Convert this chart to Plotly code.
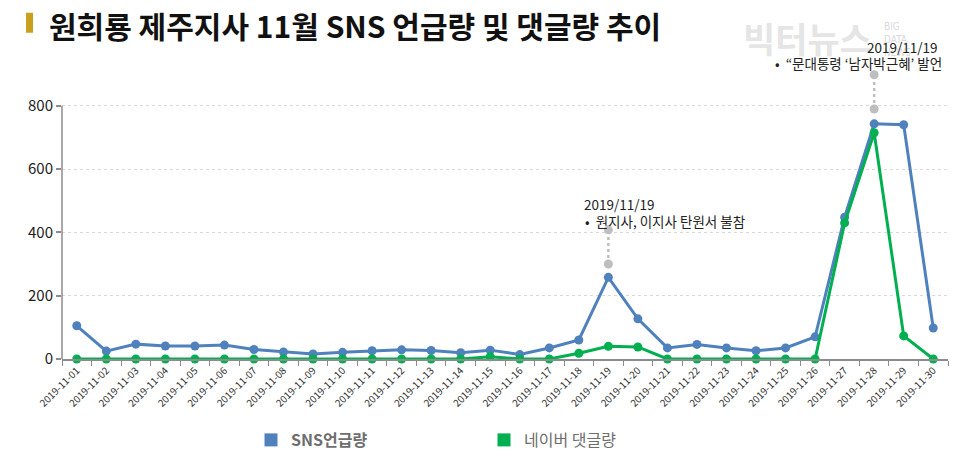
import plotly.graph_objs as go

BLUE  = 'rgba(79, 129, 189, 1.0)'
GREEN = 'rgba(0, 176, 80, 1.0)'
GREY  = 'rgba(190, 190, 190, 1.0)'
GOLD  = 'rgba(201, 160, 30, 1.0)'
AXIS  = '#8c8c8c'
KFONT = 'Noto Sans CJK KR'

dates = ['2019-11-%02d' % d for d in range(1, 31)]

sns_mentions = [105, 25, 47, 41, 41, 44, 30, 22, 16, 21,
                26, 29, 27, 20, 28, 14, 35, 60, 258, 127,
                35, 46, 35, 26, 35, 70, 448, 743, 740, 98]

naver_comments = [0, 0, 0, 0, 0, 0, 0, 0, 0, 0,
                  0, 0, 0, 0, 7, 0, 0, 18, 40, 38,
                  0, 0, 0, 0, 0, 0, 430, 715, 73, 0]

# callout stems: (date, bottom, top)
callout_dates = ['2019-11-19', '2019-11-28']
callout_low   = [300, 790]
callout_high  = [408, 898]
callout_date_text = ['2019/11/19', '2019/11/19']
callout_note_text = ['•  원지사, 이지사 탄원서 불참', '•  “문대통령 ‘남자박근혜’ 발언']

y_ticks = [0, 200, 400, 600, 800]
y_top = 910

# page pixel -> paper (page has an 8px body margin)
def px_x(p):
    return (p - 62) / 886

def px_y(p):
    return (359 - p) / (253 * y_top / 800)

fig = go.Figure()

for d, lo, hi in zip(callout_dates, callout_low, callout_high):
    fig.add_trace(go.Scatter(x=[d, d], y=[lo, hi], mode='lines+markers',
                             line=dict(color=GREY, width=2.5, dash='dot'),
                             marker=dict(color=GREY, size=9),
                             cliponaxis=False, showlegend=False, hoverinfo='skip'))

fig.add_trace(go.Scatter(x=dates, y=sns_mentions, mode='lines+markers',
                         line=dict(color=BLUE, width=3), marker=dict(color=BLUE, size=9),
                         cliponaxis=False, showlegend=False))
fig.add_trace(go.Scatter(x=dates, y=naver_comments, mode='lines+markers',
                         line=dict(color=GREEN, width=3), marker=dict(color=GREEN, size=9),
                         cliponaxis=False, showlegend=False))

# square legend keys
fig.add_trace(go.Scatter(x=[None], y=[None], name='<b>SNS언급량</b>', mode='markers',
                         marker=dict(color=BLUE, size=13, symbol='square')))
fig.add_trace(go.Scatter(x=[None], y=[None], name='네이버 댓글량', mode='markers',
                         marker=dict(color=GREEN, size=13, symbol='square')))

annots = [
    dict(text=callout_date_text[0], x=px_x(582), y=px_y(204)),
    dict(text=callout_note_text[0], x=px_x(583), y=px_y(221)),
    dict(text=callout_date_text[1], x=px_x(865), y=px_y(47)),
    dict(text=callout_note_text[1], x=px_x(773), y=px_y(63)),
]

# watermark first so callout text sits over it
fig.add_annotation(text='<b>빅터뉴스</b>', x=px_x(741), y=px_y(38),
                   xref='paper', yref='paper', xanchor='left', yanchor='middle',
                   showarrow=False, font=dict(family=KFONT, size=35, color='rgba(222,222,222,0.8)'))
fig.add_annotation(text='BIG<br>DATA<br>NEWS', x=px_x(882), y=px_y(40),
                   xref='paper', yref='paper', xanchor='left', yanchor='middle', align='left',
                   showarrow=False, font=dict(family='DejaVu Sans Condensed', size=10,
                                              color='rgba(212,212,212,0.9)'))

for a in annots:
    fig.add_annotation(text=a['text'], x=a['x'], y=a['y'], xref='paper', yref='paper',
                       xanchor='left', yanchor='middle', showarrow=False,
                       font=dict(family=KFONT, size=13.5, color='#222'))

fig.add_annotation(text='<b>원희룡 제주지사 11월 SNS 언급량 및 댓글량 추이</b>',
                   x=px_x(47), y=px_y(25), xref='paper', yref='paper',
                   xanchor='left', yanchor='middle', showarrow=False,
                   font=dict(family=KFONT, size=30, color='#111'))
fig.add_shape(type='rect', xref='paper', yref='paper',
              x0=px_x(26), x1=px_x(33), y0=px_y(33), y1=px_y(13),
              fillcolor=GOLD, line=dict(width=0))

# y axis line only up to the top tick
fig.add_shape(type='line', xref='paper', yref='y', x0=0, x1=0, y0=0, y1=800,
              line=dict(color=AXIS, width=1.5), layer='above')

fig.update_layout(
    width=952, height=453,
    margin=dict(l=54, r=12, t=63, b=102, autoexpand=False),
    paper_bgcolor='white', plot_bgcolor='white',
    font=dict(family=KFONT, color='#222'),
    showlegend=True,
    legend=dict(orientation='h', x=0.5, xanchor='center', xref='container',
                y=21 / 453, yanchor='middle', yref='container',
                font=dict(family=KFONT, size=16, color='#6e6e6e'),
                entrywidth=188),
    xaxis=dict(type='category', categoryorder='array', categoryarray=dates,
               range=[-0.5, 29.5], tickangle=-45, automargin=False,
               tickfont=dict(family=KFONT, size=10, color='#333'),
               showline=True, linecolor=AXIS, linewidth=1.5,
               ticks='outside', ticklen=5, tickcolor=AXIS, tickson='boundaries',
               showgrid=False, zeroline=False),
    yaxis=dict(range=[0, y_top], tickvals=y_ticks, automargin=False,
               tickfont=dict(family=KFONT, size=15, color='#222'),
               showline=False,
               ticks='outside', ticklen=5, tickcolor=AXIS, tickwidth=1.5,
               showgrid=True, gridcolor='#d9d9d9', griddash='dot', gridwidth=1,
               zeroline=False),
)

fig.write_html('out.html')
